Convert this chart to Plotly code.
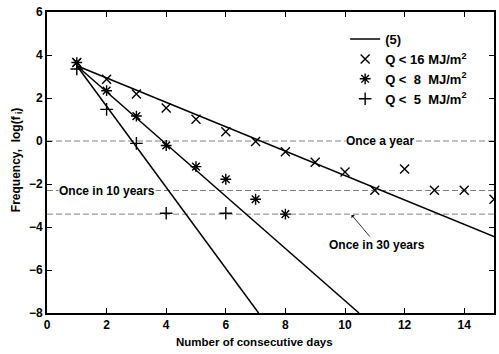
import math
import plotly.graph_objects as go

# Observed frequencies, log(f_i), versus run length in days
days = list(range(1, 16))
q16 = [3.65, 2.87, 2.19, 1.53, 1.01, 0.43, -0.02, -0.50, -0.99, -1.44, -2.29, -1.30, -2.29, -2.29, -2.71]
days_q8 = [1, 2, 3, 4, 5, 6, 7, 8]
q8 = [3.65, 2.34, 1.16, -0.21, -1.19, -1.78, -2.71, -3.40]
days_q5 = [1, 2, 3, 4, 6]
q5 = [3.35, 1.47, -0.11, -3.36, -3.36]

# Model lines (5)
fit16_x = [1, 15]
fit16_y = [3.5, -4.45]
fit8_x = [1, 10.47]
fit8_y = [3.5, -8.0]
fit5_x = [1, 7.1]
fit5_y = [3.5, -8.0]

# Reference return levels
ref_labels = ["Once a year", "Once in 10 years", "Once in 30 years"]
ref_levels = [math.log(1.0), math.log(1 / 10), math.log(1 / 30)]

FAMILY = "Liberation Sans, Arial, sans-serif"
FONT = dict(family=FAMILY, size=12, color="black", weight="bold")
XTITLE_FONT = dict(family=FAMILY, size=11.5, color="black", weight="bold")
LEGEND_FONT = dict(family=FAMILY, size=13, color="black", weight="bold")

fig = go.Figure()

for lvl in ref_levels:
    fig.add_trace(go.Scatter(x=[0, 15], y=[lvl, lvl], mode="lines",
                             line=dict(color="#808080", width=1, dash="6px,3px"),
                             showlegend=False, hoverinfo="skip"))

fig.add_trace(go.Scatter(x=fit16_x, y=fit16_y, mode="lines", name="(5)",
                         line=dict(color="black", width=1.5)))
fig.add_trace(go.Scatter(x=fit8_x, y=fit8_y, mode="lines", showlegend=False,
                         line=dict(color="black", width=1.5)))
fig.add_trace(go.Scatter(x=fit5_x, y=fit5_y, mode="lines", showlegend=False,
                         line=dict(color="black", width=1.5)))

fig.add_trace(go.Scatter(x=days, y=q16, mode="markers", name="Q < 16 MJ/m<sup>2</sup>",
                         marker=dict(symbol="x-thin-open", size=9, color="black",
                                     line=dict(color="black", width=1.4))))
fig.add_trace(go.Scatter(x=days_q8, y=q8, mode="markers", name="Q <  8  MJ/m<sup>2</sup>",
                         marker=dict(symbol="asterisk-open", size=9, color="black",
                                     line=dict(color="black", width=1.4))))
fig.add_trace(go.Scatter(x=days_q5, y=q5, mode="markers", name="Q <  5  MJ/m<sup>2</sup>",
                         marker=dict(symbol="cross-thin-open", size=9, color="black",
                                     line=dict(color="black", width=1.4))))

fig.add_annotation(x=11.17, y=ref_levels[0], text=ref_labels[0], showarrow=False,
                   bgcolor="white", font=FONT, borderpad=0)
fig.add_annotation(x=2.0, y=ref_levels[1], text=ref_labels[1], showarrow=False,
                   bgcolor="white", font=FONT, borderpad=0)
fig.add_annotation(x=10.2, y=ref_levels[2], text=ref_labels[2], showarrow=True,
                   ax=26, ay=31, arrowhead=1, arrowsize=1, arrowwidth=0.8,
                   arrowcolor="black", font=FONT, standoff=1)

# Axis titles placed as paper-anchored text
fig.add_annotation(xref="paper", yref="paper", x=0.464, y=-0.096,
                   text="Number of consecutive days", showarrow=False,
                   xanchor="center", yanchor="middle", font=XTITLE_FONT)
fig.add_annotation(xref="paper", yref="paper", x=-0.067, y=0.508,
                   text="Frequency,  log(f<sub> i</sub>)", showarrow=False, textangle=-90,
                   xanchor="center", yanchor="middle", font=FONT)

axis_common = dict(showline=True, linecolor="black", linewidth=2, mirror="ticks",
                   ticks="inside", ticklen=5, tickwidth=1, tickcolor="black",
                   showgrid=False, zeroline=False, tickfont=FONT)

fig.update_xaxes(range=[0, 15], tickvals=list(range(0, 15, 2)), **axis_common)
fig.update_yaxes(range=[-8, 6], tickvals=list(range(-8, 7, 2)), **axis_common)

fig.update_layout(
    width=499, height=354,
    margin=dict(l=47, r=3, t=12, b=41),
    plot_bgcolor="white", paper_bgcolor="white",
    font=FONT,
    showlegend=True,
    legend=dict(x=0.667, y=0.96, xanchor="left", yanchor="top",
                bgcolor="rgba(0,0,0,0)", font=LEGEND_FONT, tracegroupgap=0),
)

fig.write_html("out.html")
